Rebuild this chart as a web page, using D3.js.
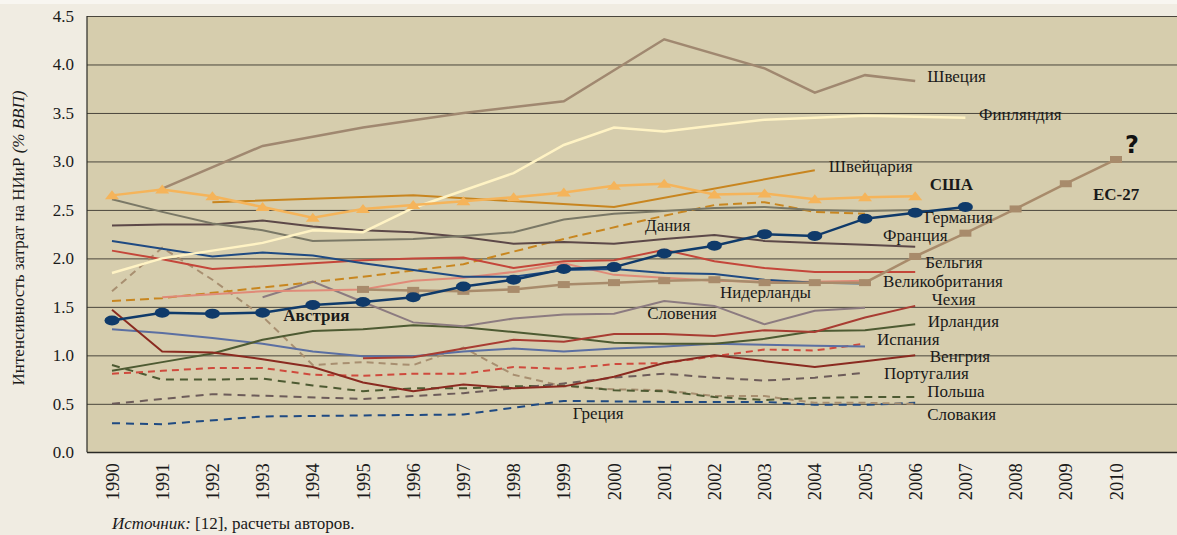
<!DOCTYPE html>
<html>
<head>
<meta charset="utf-8">
<script src="https://cdn.jsdelivr.net/npm/d3@7.9.0/dist/d3.min.js"></script>
<style>
  body { margin: 0; background: #f0ece2; }
  svg { display: block; font-family: "Liberation Serif", "Times New Roman", serif; }
</style>
</head>
<body>
<svg id="chart" width="1177" height="535"></svg>
<script>
// years on the x axis
const years = [1990, 1991, 1992, 1993, 1994, 1995, 1996, 1997, 1998, 1999, 2000,
               2001, 2002, 2003, 2004, 2005, 2006, 2007, 2008, 2009, 2010];
const yTicks = [0, 0.5, 1, 1.5, 2, 2.5, 3, 3.5, 4, 4.5];

// R&D intensity, % of GDP, index 0 = 1990 (null = no value)
const sweden      = [null, 2.72, null, 3.16, null, 3.35, null, 3.50, null, 3.62, null, 4.26, null, 3.96, 3.71, 3.89, 3.83];
const finland     = [1.85, 2.00, 2.08, 2.16, 2.29, 2.27, 2.52, 2.70, 2.88, 3.17, 3.35, 3.31, 3.37, 3.43, 3.45, 3.47, 3.46, 3.45];
const switzerland = [null, null, 2.58, null, null, null, 2.65, null, null, null, 2.53, null, null, null, 2.91];
const usa         = [2.65, 2.71, 2.64, 2.53, 2.42, 2.51, 2.55, 2.59, 2.63, 2.68, 2.75, 2.77, 2.66, 2.67, 2.61, 2.63, 2.64];
const germany     = [2.61, 2.48, 2.36, 2.29, 2.18, 2.19, 2.20, 2.23, 2.27, 2.40, 2.46, 2.49, 2.52, 2.53, 2.50, 2.49, 2.50];
const france      = [2.34, 2.35, 2.35, 2.39, 2.33, 2.29, 2.27, 2.22, 2.15, 2.17, 2.15, 2.20, 2.24, 2.18, 2.16, 2.14, 2.12];
const denmark     = [1.56, 1.59, null, 1.70, null, 1.81, null, 1.94, null, 2.20, null, 2.44, 2.55, 2.58, 2.48, 2.46];
const austria     = [1.36, 1.44, 1.43, 1.44, 1.52, 1.55, 1.60, 1.71, 1.78, 1.89, 1.91, 2.05, 2.13, 2.25, 2.23, 2.41, 2.47, 2.53];
const eu27        = [null, null, null, null, null, 1.68, 1.67, 1.66, 1.68, 1.73, 1.75, 1.77, 1.78, 1.75, 1.75, 1.75, 2.02, 2.26, 2.51, 2.77, 3.02];
const netherlands = [2.18, 2.10, 2.02, 2.06, 2.03, 1.95, 1.88, 1.81, 1.81, 1.88, 1.89, 1.85, 1.84, 1.78, 1.75, 1.74];
const belgium     = [2.08, 1.99, 1.89, 1.92, 1.95, 1.98, 2.00, 2.01, 1.90, 1.97, 1.98, 2.09, 1.97, 1.90, 1.86, 1.86, 1.86];
const uk          = [null, 1.60, 1.63, 1.66, 1.67, 1.68, 1.77, 1.80, 1.86, 1.95, 1.83, 1.80, 1.77, 1.76, 1.76, 1.77];
const slovenia    = [null, null, null, 1.60, 1.76, 1.55, 1.34, 1.30, 1.38, 1.42, 1.43, 1.56, 1.51, 1.32, 1.46, 1.49];
const czechia     = [null, null, null, null, null, 0.97, 0.98, 1.07, 1.16, 1.14, 1.22, 1.22, 1.20, 1.26, 1.24, 1.39, 1.51];
const hungary     = [1.47, 1.04, 1.03, 0.96, 0.88, 0.72, 0.63, 0.70, 0.66, 0.68, 0.78, 0.92, 1.00, 0.94, 0.88, 0.94, 1.00];
const ireland     = [0.84, 0.93, 1.02, 1.16, 1.25, 1.27, 1.31, 1.29, 1.24, 1.19, 1.13, 1.12, 1.12, 1.17, 1.25, 1.26, 1.32];
const italy       = [1.27, 1.23, 1.18, 1.12, 1.04, 0.99, 0.99, 1.04, 1.07, 1.04, 1.07, 1.09, 1.12, 1.11, 1.10, 1.09];
const spain       = [0.81, 0.84, 0.87, 0.87, 0.80, 0.79, 0.81, 0.81, 0.88, 0.86, 0.91, 0.92, 0.99, 1.06, 1.05, 1.12];
const portugal    = [0.50, null, 0.60, null, null, 0.55, null, 0.61, null, 0.71, 0.77, 0.81, 0.77, 0.74, 0.77, 0.82];
const poland      = [0.90, 0.75, 0.75, 0.76, 0.69, 0.63, 0.66, 0.66, 0.68, 0.69, 0.64, 0.63, 0.57, 0.54, 0.56, 0.57, 0.57];
const slovakia    = [1.66, 2.11, 1.78, 1.40, 0.90, 0.93, 0.90, 1.08, 0.80, 0.68, 0.65, 0.64, 0.58, 0.58, 0.51, 0.51, 0.50];
const greece      = [0.30, 0.29, null, 0.37, null, 0.38, null, 0.39, null, 0.53, null, 0.52, null, 0.52, 0.49, 0.49, 0.51];

// line labels: text, year, value of the text's left baseline point
const labels = [
  ['Швеция', 2006.24, 3.82], ['Финляндия', 2007.27, 3.43], ['Швейцария', 2004.28, 2.89],
  ['США', 2006.29, 2.71, true], ['Германия', 2006.18, 2.37], ['Франция', 2005.36, 2.18],
  ['ЕС-27', 2009.54, 2.60, true], ['Дания', 2000.62, 2.28], ['Бельгия', 2006.2, 1.90],
  ['Великобритания', 2005.36, 1.71], ['Нидерланды', 2002.11, 1.59], ['Словения', 2000.66, 1.37],
  ['Австрия', 1993.41, 1.35, true], ['Чехия', 2006.33, 1.52], ['Ирландия', 2006.25, 1.29],
  ['Испания', 2005.24, 1.11], ['Венгрия', 2006.29, 0.93], ['Португалия', 2005.38, 0.76],
  ['Польша', 2006.24, 0.57], ['Словакия', 2006.24, 0.33], ['Греция', 1999.18, 0.34],
];

const series = [
  { values: greece,      color: '#1f4a82', dash: '8,6' },
  { values: slovakia,    color: '#a88f70', dash: '7,5' },
  { values: poland,      color: '#4d5a32', dash: '8,6' },
  { values: portugal,    color: '#6d5c5a', dash: '8,6' },
  { values: spain,       color: '#cf4a3d', dash: '7,5' },
  { values: denmark,     color: '#c8861f', dash: '9,5' },
  { values: italy,       color: '#5b6fa2' },
  { values: ireland,     color: '#4d5a32' },
  { values: hungary,     color: '#8a2a20' },
  { values: czechia,     color: '#a83c32' },
  { values: slovenia,    color: '#8c7b80' },
  { values: uk,          color: '#e08a78' },
  { values: belgium,     color: '#c4463a' },
  { values: netherlands, color: '#1f4a82' },
  { values: france,      color: '#5c4848' },
  { values: germany,     color: '#7a7866' },
  { values: switzerland, color: '#c8851f' },
  { values: sweden,      color: '#a08870', width: 2.5 },
  { values: finland,     color: '#fff3c4', width: 2.5 },
  { values: eu27,        color: '#a88b6b', width: 2.5, marker: 'square' },
  { values: usa,         color: '#f5b45a', width: 2.5, marker: 'triangle' },
  { values: austria,     color: '#0f3a6a', width: 2.5, marker: 'circle' },
];

const svg = d3.select('#chart');
const W = 1177, H = 535;
const plot = { left: 87, right: 1177, top: 16, bottom: 452.3 };

const x = d3.scaleLinear().domain([1990, 2010]).range([112, 1116]);
const y = d3.scaleLinear().domain([0, 4.5]).range([plot.bottom, plot.top]);

svg.append('rect').attr('width', W).attr('height', H).attr('fill', '#f0ece2');
svg.append('rect').attr('width', W).attr('height', 4).attr('fill', '#f8f6f1');
svg.append('rect')
  .attr('x', plot.left).attr('y', plot.top)
  .attr('width', plot.right - plot.left).attr('height', plot.bottom - plot.top)
  .attr('fill', '#d6cdad');

// gridlines
svg.append('g')
  .attr('transform', `translate(${plot.left},0)`)
  .call(d3.axisLeft(y).tickValues(yTicks).tickFormat('').tickSize(-(plot.right - plot.left)))
  .call(g => g.select('.domain').remove())
  .call(g => g.selectAll('line').attr('stroke', '#4a463c').attr('stroke-width', 1));

// lines
const line = d3.line().x(d => x(d[0])).y(d => y(d[1]));
const pts = vals => vals.map((v, i) => [years[i], v]).filter(d => d[1] != null);

for (const s of series) {
  const p = pts(s.values);
  svg.append('path')
    .datum(p)
    .attr('d', line)
    .attr('fill', 'none')
    .attr('stroke', s.color)
    .attr('stroke-width', s.width || 2)
    .attr('stroke-dasharray', s.dash || null);

  if (s.marker === 'circle') {
    svg.append('g').selectAll('ellipse').data(p).join('ellipse')
      .attr('cx', d => x(d[0])).attr('cy', d => y(d[1]))
      .attr('rx', 7.5).attr('ry', 5).attr('fill', s.color);
  } else if (s.marker === 'square') {
    svg.append('g').selectAll('rect').data(p).join('rect')
      .attr('x', d => x(d[0]) - 6).attr('y', d => y(d[1]) - 3.5)
      .attr('width', 12).attr('height', 7).attr('fill', s.color);
  } else if (s.marker === 'triangle') {
    svg.append('g').selectAll('path').data(p).join('path')
      .attr('transform', d => `translate(${x(d[0])},${y(d[1])})`)
      .attr('d', 'M-7,4L0,-5L7,4Z')
      .attr('fill', s.color);
  }
}

// axes frame
svg.append('line').attr('x1', plot.left).attr('x2', plot.left)
  .attr('y1', plot.top).attr('y2', plot.bottom).attr('stroke', '#2a2a26').attr('stroke-width', 1.2);
svg.append('line').attr('x1', plot.left).attr('x2', plot.right)
  .attr('y1', plot.bottom).attr('y2', plot.bottom).attr('stroke', '#2a2a26').attr('stroke-width', 1.2);

// y tick labels
svg.append('g')
  .attr('transform', `translate(${plot.left},0)`)
  .call(d3.axisLeft(y).tickValues(yTicks).tickFormat(d3.format('.1f')).tickSize(0).tickPadding(13))
  .call(g => g.select('.domain').remove())
  .call(g => g.selectAll('text')
    .attr('fill', '#1a1a1a')
    .style('font-family', '"Liberation Serif", serif')
    .style('font-size', '17px'));

// x tick labels
svg.append('g')
  .attr('transform', `translate(0,${plot.bottom})`)
  .call(d3.axisBottom(x).tickValues(years).tickFormat(d3.format('d')).tickSize(0))
  .call(g => g.select('.domain').remove())
  .call(g => g.selectAll('text')
    .attr('transform', 'rotate(-90)')
    .attr('text-anchor', 'end')
    .attr('x', -11).attr('y', 0).attr('dy', '0.33em')
    .attr('fill', '#1a1a1a')
    .style('font-family', '"Liberation Serif", serif')
    .style('font-size', '18.5px'));

// line labels
svg.append('g').selectAll('text').data(labels).join('text')
  .attr('x', d => x(d[1])).attr('y', d => y(d[2]))
  .attr('fill', '#1a1a1a')
  .style('font-size', '17px')
  .style('font-weight', d => d[3] ? 'bold' : null)
  .text(d => d[0]);

svg.append('text')
  .attr('x', x(2010.18)).attr('y', y(3.09))
  .attr('fill', '#111')
  .style('font-family', '"DejaVu Sans", sans-serif')
  .style('font-weight', 'bold')
  .style('font-size', '24px')
  .text('?');

// y axis title
const yt = svg.append('text')
  .attr('transform', 'translate(24,238) rotate(-90)')
  .attr('text-anchor', 'middle')
  .attr('fill', '#1a1a1a')
  .style('font-size', '17px');
yt.append('tspan').text('Интенсивность затрат на НИиР ');
yt.append('tspan').style('font-style', 'italic').text('(% ВВП)');

// source
const src = svg.append('text')
  .attr('x', 112).attr('y', 529)
  .attr('fill', '#1a1a1a')
  .style('font-size', '17px');
src.append('tspan').style('font-style', 'italic').text('Источник:');
src.append('tspan').text(' [12], расчеты авторов.');
</script>
</body>
</html>
